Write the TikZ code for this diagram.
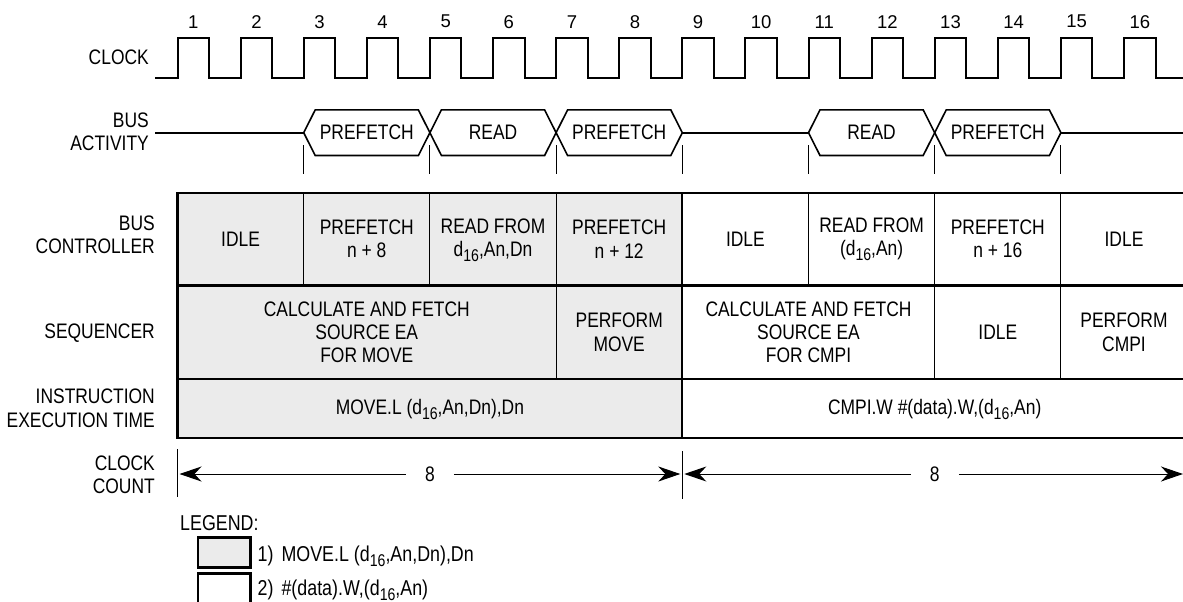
\documentclass[tikz,border=0pt]{standalone}
\usepackage{fontspec}
\setmainfont{Liberation Sans}[FakeStretch=0.83]
\newfontfamily\numfont{Liberation Sans}
\usetikzlibrary{arrows.meta}
\definecolor{cellgray}{HTML}{EBEBEB}
\newcommand{\dsub}{d\raisebox{-5pt}[0pt][0pt]{\fontsize{17}{17}\selectfont 16}}
\begin{document}
\begin{tikzpicture}[x=1pt,y=-1pt,line join=miter,font=\fontsize{21}{23.3}\selectfont]
  \tikzset{
    lbl/.style={anchor=east,align=right,inner sep=0pt},
    cell/.style={align=center,inner sep=0pt},
    wave/.style={draw=black,line width=2pt},
    bus/.style={draw=black,line width=1.6pt},
    tick/.style={draw=black,line width=1pt},
    rule/.style={draw=black,line width=2.2pt},
    thin/.style={draw=black,line width=1pt},
    legbox/.style={draw=black,line width=2.5pt},
    count/.style={draw=black,line width=1pt,shorten >=2pt,
      -{Stealth[length=22pt,width=15pt,inset=7pt]}}
  }
  \useasboundingbox (0,0) rectangle (1183,602);
  % clock: rising edge n sits at 177.5+63.1(n-1)
  \node[lbl] (clk) at (149,57) {CLOCK};
  \draw[wave] (155,77.7) \foreach \n in {0,...,15}{
    -- ({177.5+63.1*\n},77.7) -- ++(0,-39.4) -- ++(31.55,0) -- ++(0,39.4)} -- (1190,77.7);
  \foreach \n in {1,...,16}
    \node[inner sep=0pt,font=\numfont\fontsize{18.5}{20}\selectfont] (num\n)
      at ({193.3+63.1*(\n-1)},21.7) {\n};
  % bus activity
  \node[lbl] (busact) at (149,132) {BUS\\ACTIVITY};
  \draw[bus] (155,132.7) -- (303.7,132.7);
  \draw[bus] (682.3,132.7) -- (808.5,132.7);
  \draw[bus] (1060.9,132.7) -- (1190,132.7);
  \foreach \a/\t/\nm in {303.7/PREFETCH/pfa,429.9/READ/rda,556.1/PREFETCH/pfb,
      808.5/READ/rdb,934.7/PREFETCH/pfc}{
    \draw[bus] (\a,132.7) -- ++(11.5,-22.8) -- ++(103.2,0) -- ++(11.5,22.8)
      -- ++(-11.5,22.8) -- ++(-103.2,0) -- cycle;
    \node[cell] (\nm) at ({\a+63.1},132.7) {\t};
  }
  \foreach \n in {2,4,...,14}
    \draw[tick] ({177.5+63.1*\n},145) -- ++(0,28.5);
  % table, shaded half belongs to MOVE.L
  \fill[cellgray] (177.5,192.7) rectangle (682.3,438);
  \foreach \x in {303.7,429.9,556.1,808.5,934.7,1060.9}
    \draw[thin] (\x,192.7) -- (\x,285.5);
  \foreach \x in {556.1,934.7,1060.9}
    \draw[thin] (\x,285.5) -- (\x,379.3);
  \draw[rule] (1190,192.7) -- (177.5,192.7) -- (177.5,438) -- (1190,438);
  \draw[rule] (177.5,285.5) -- (1190,285.5) (177.5,379.3) -- (1190,379.3);
  \draw[rule] (682.3,192.7) -- (682.3,438);
  \node[lbl] (busctl) at (155,235) {BUS\\CONTROLLER};
  \node[lbl] (seq) at (155,333.3) {SEQUENCER};
  \node[lbl] (instr) at (155,408.3) {INSTRUCTION\\EXECUTION TIME};
  \foreach \a/\b/\t/\nm in {177.5/303.7/IDLE/bca,303.7/429.9/{PREFETCH\\n + 8}/bcb,
      429.9/556.1/{READ FROM\\\dsub,An,Dn}/bcc,556.1/682.3/{PREFETCH\\n + 12}/bcd,
      682.3/808.5/IDLE/bce,808.5/934.7/{READ FROM\\(\dsub,An)}/bcf,
      934.7/1060.9/{PREFETCH\\n + 16}/bcg,1060.9/1187.1/IDLE/bch}
    \node[cell] (\nm) at ({(\a+\b)/2},239.1) {\t};
  \foreach \a/\b/\t/\nm in {177.5/556.1/{CALCULATE AND FETCH\\SOURCE EA\\FOR MOVE}/sqa,
      556.1/682.3/{PERFORM\\MOVE}/sqb,682.3/934.7/{CALCULATE AND FETCH\\SOURCE EA\\FOR CMPI}/sqc,
      934.7/1060.9/IDLE/sqd,1060.9/1187.1/{PERFORM\\CMPI}/sqe}
    \node[cell] (\nm) at ({(\a+\b)/2},332.4) {\t};
  \node[cell] (ins1) at (429.9,408.7) {MOVE.L (\dsub,An,Dn),Dn};
  \node[cell] (ins2) at (934.7,408.7) {CMPI.W \#(data).W,(\dsub,An)};
  % clock count
  \node[lbl] (clkcnt) at (155,475) {CLOCK\\COUNT};
  \draw[thin] (177.5,449.3) -- (177.5,496.7);
  \draw[thin] (682.3,451) -- (682.3,499);
  \coordinate (ca) at (177.5,474);
  \coordinate (cb) at (682.3,474);
  \coordinate (cc) at (1185,474);
  \node[inner xsep=19pt,inner ysep=0pt] (cnta) at (429.9,474) {8};
  \node[inner xsep=19pt,inner ysep=0pt] (cntb) at (934.7,474) {8};
  \draw[count] (cnta) -- (ca);
  \draw[count] (cnta) -- (cb);
  \draw[count] (cntb) -- (cb);
  \draw[count] (cntb) -- (cc);
  % legend
  \begin{scope}[font=\fontsize{21.5}{24}\selectfont]
    \node[anchor=base west,inner sep=0pt] (legend) at (180,530) {LEGEND:};
    \draw[legbox,fill=cellgray] (198.2,537.7) rectangle (250.7,567.7);
    \draw[legbox] (198.2,573.3) rectangle (250.7,606);
    \node[anchor=base west,inner sep=0pt] (lega) at (257.5,561.5) {1)\hspace{8pt}MOVE.L (\dsub,An,Dn),Dn};
    \node[anchor=base west,inner sep=0pt] (legb) at (257.5,595.5) {2)\hspace{8pt}\#(data).W,(\dsub,An)};
  \end{scope}
\end{tikzpicture}
\end{document}
